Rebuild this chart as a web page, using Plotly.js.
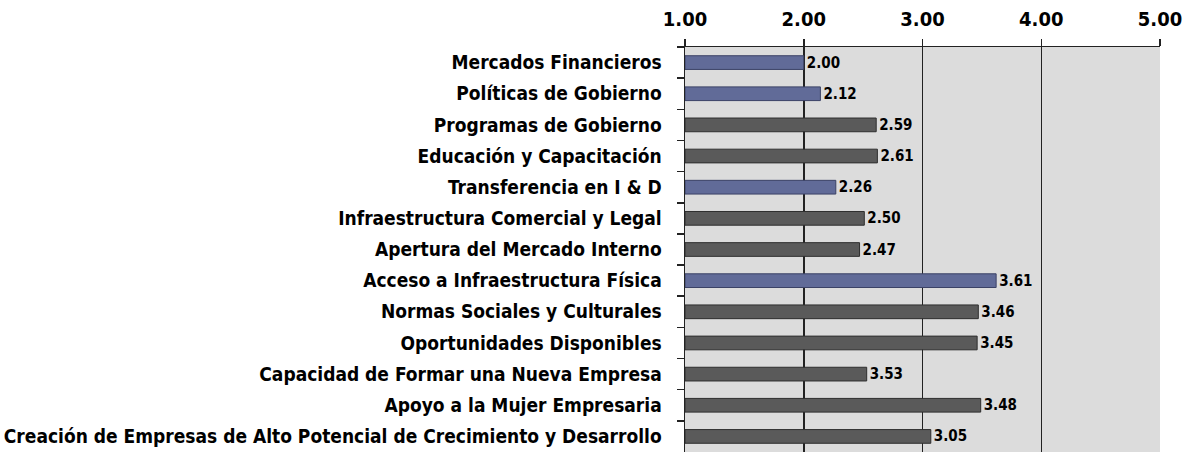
<!DOCTYPE html>
<html>
<head>
<meta charset="utf-8">
<script src="https://cdn.plot.ly/plotly-3.0.1.min.js"></script>
<style>html,body{margin:0;padding:0;background:#fff;}#chart{width:1185px;height:452px;}</style>
</head>
<body>
<div id="chart"></div>
<script>
const categories = [
  "Mercados Financieros",
  "Políticas de Gobierno",
  "Programas de Gobierno",
  "Educación y Capacitación",
  "Transferencia en I & D",
  "Infraestructura Comercial y Legal",
  "Apertura del Mercado Interno",
  "Acceso a Infraestructura Física",
  "Normas Sociales y Culturales",
  "Oportunidades Disponibles",
  "Capacidad de Formar una Nueva Empresa",
  "Apoyo a la Mujer Empresaria",
  "Creación de Empresas de Alto Potencial de Crecimiento y Desarrollo"
];
const barValues = [2.00, 2.14, 2.61, 2.62, 2.27, 2.51, 2.47, 3.62, 3.47, 3.46, 2.53, 3.49, 3.07];
const valueLabels = ["2.00", "2.12", "2.59", "2.61", "2.26", "2.50", "2.47", "3.61", "3.46", "3.45", "3.53", "3.48", "3.05"];
const highlighted = ["Mercados Financieros", "Políticas de Gobierno", "Transferencia en I & D", "Acceso a Infraestructura Física"];
const tickValues = [1, 2, 3, 4, 5];
const tickLabels = ["1.00", "2.00", "3.00", "4.00", "5.00"];

const FONT = "'DejaVu Sans Condensed', 'Liberation Sans Narrow', sans-serif";
const fill = categories.map(c => highlighted.includes(c) ? "#616b98" : "#5a5a5a");
const edge = categories.map(c => highlighted.includes(c) ? "#3b4266" : "#2e2e2e");

const trace = {
  type: "bar",
  orientation: "h",
  y: categories,
  x: barValues.map(v => v - 1),
  base: 1,
  text: valueLabels,
  textposition: "outside",
  constraintext: "none",
  cliponaxis: false,
  textfont: {family: FONT, size: 15, color: "#000", weight: "bold"},
  marker: {color: fill, line: {color: edge, width: 1}},
  width: 0.44,
  hoverinfo: "skip"
};

const layout = {
  width: 1185, height: 452,
  margin: {l: 685, r: 25, t: 47, b: 0, pad: 0},
  paper_bgcolor: "#ffffff",
  plot_bgcolor: "#dcdcdc",
  showlegend: false,
  font: {family: FONT, color: "#000"},
  xaxis: {
    side: "top",
    range: [1, 5],
    tickvals: tickValues,
    ticktext: tickLabels,
    ticks: "outside", ticklen: 7, tickwidth: 1.5, tickcolor: "#222",
    ticklabelstandoff: 5,
    showgrid: true, gridcolor: "#222", gridwidth: 1.5,
    showline: true, linecolor: "#222", linewidth: 1.5,
    zeroline: false,
    tickfont: {family: FONT, size: 20, color: "#000", weight: "bold"},
    fixedrange: true
  },
  yaxis: {
    type: "category",
    autorange: "reversed",
    ticks: "outside", ticklen: 7, tickwidth: 1.5, tickcolor: "#222",
    tickson: "boundaries",
    showline: true, linecolor: "#222", linewidth: 1.5,
    showgrid: false, zeroline: false,
    ticklabelstandoff: 18,
    tickfont: {family: FONT, size: 19, color: "#000", weight: "bold"},
    fixedrange: true
  }
};

Plotly.newPlot("chart", [trace], layout, {displayModeBar: false, staticPlot: true});
</script>
</body>
</html>
